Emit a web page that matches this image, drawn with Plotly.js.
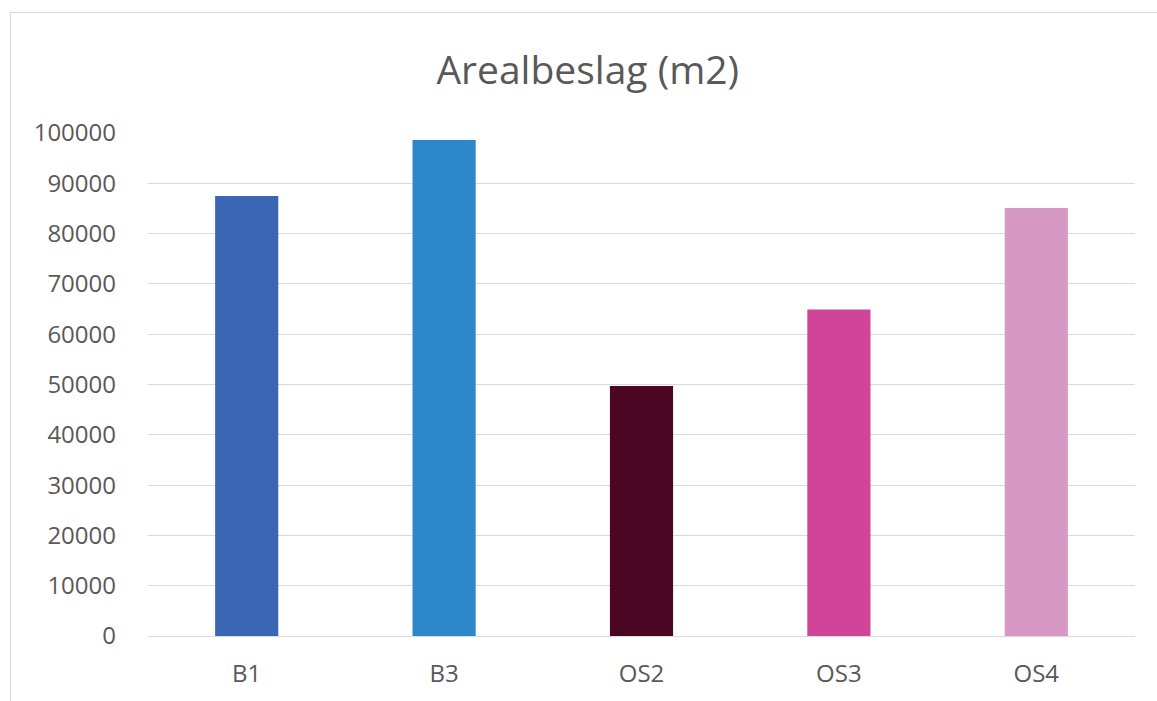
<!DOCTYPE html>
<html>
<head>
<meta charset="utf-8">
<script src="https://cdn.plot.ly/plotly-3.0.1.min.js"></script>
<style>
html,body{margin:0;padding:0;background:#fff;}
#chart{width:1157px;height:701px;position:relative;}
#frame{position:absolute;left:10px;top:12px;width:1160px;height:700px;border-left:1px solid #d9d9d9;border-top:1px solid #d9d9d9;pointer-events:none;z-index:5;}
</style>
</head>
<body>
<div id="chart"><div id="frame"></div></div>
<script>
const categories = ["B1", "B3", "OS2", "OS3", "OS4"];
const values = [87500, 98600, 49700, 64900, 85100];
const barColors = ["#3a67b3", "#2e87c8", "#4a0622", "#d0449a", "#d898c4"];
const yTicks = [0, 10000, 20000, 30000, 40000, 50000, 60000, 70000, 80000, 90000, 100000];

const trace = {
  type: "bar",
  x: categories,
  y: values,
  marker: {color: barColors},
  hoverinfo: "x+y"
};

const layout = {
  width: 1157,
  height: 701,
  margin: {l: 148, r: 22, t: 133, b: 65},
  paper_bgcolor: "#ffffff",
  plot_bgcolor: "#ffffff",
  bargap: 0.68,
  showlegend: false,
  title: {
    text: "Arealbeslag (m2)",
    font: {family: "Open Sans, sans-serif", size: 39, color: "#595959"},
    x: 0.508, xanchor: "center",
    y: 0.9, yanchor: "middle", yref: "container"
  },
  xaxis: {
    tickfont: {family: "Open Sans, sans-serif", size: 24, color: "#595959"},
    showgrid: false,
    showline: true,
    linecolor: "#d9d9d9",
    linewidth: 1,
    ticks: "",
    ticklabelstandoff: 16
  },
  yaxis: {
    range: [0, 100000],
    tickvals: yTicks,
    ticktext: yTicks.map(String),
    tickfont: {family: "Open Sans, sans-serif", size: 24, color: "#595959"},
    showgrid: true,
    gridcolor: "#d9d9d9",
    gridwidth: 1,
    zeroline: false,
    showline: false,
    ticks: "",
    ticklabelstandoff: 31
  }
};

Plotly.newPlot("chart", [trace], layout, {displayModeBar: false, staticPlot: true});
</script>
</body>
</html>
